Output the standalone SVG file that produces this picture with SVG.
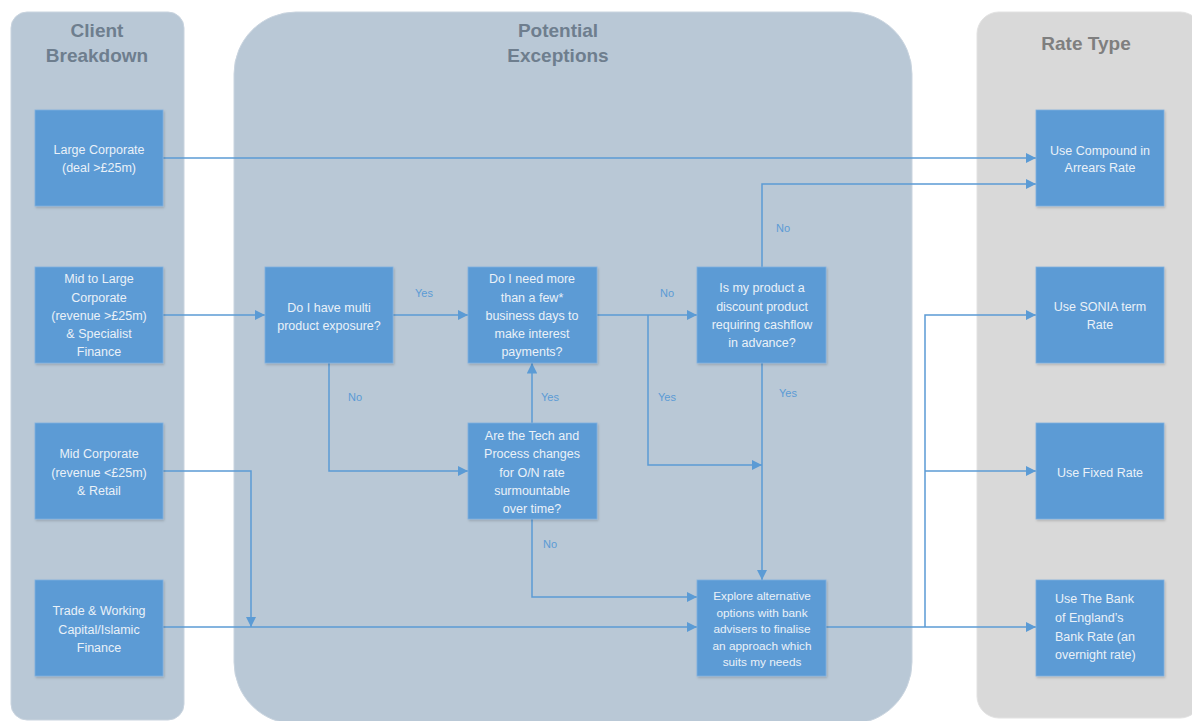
<svg xmlns="http://www.w3.org/2000/svg" width="1192" height="721" viewBox="0 0 1192 721">
<defs>
<style>
.lane{fill:#B9C8D6;stroke:#C9D4DF;stroke-width:1}
.laneR{fill:#D9D9D9;stroke:#E2E2E2;stroke-width:1}
.title{font-family:"Liberation Sans",Arial,sans-serif;font-weight:bold;font-size:19px;fill:#6E7E8E;text-anchor:middle}
.titleR{font-family:"Liberation Sans",Arial,sans-serif;font-weight:bold;font-size:19px;fill:#7F7F7F;text-anchor:middle}
.box{fill:#5B9BD5;stroke:#7FB0DE;stroke-width:0.8;filter:url(#sh)}
.t{font-family:"Liberation Sans",Arial,sans-serif;font-size:12.5px;fill:#EAF1F8;text-anchor:middle}
.ts{font-family:"Liberation Sans",Arial,sans-serif;font-size:11.8px;fill:#EAF1F8;text-anchor:middle}
.tl{font-family:"Liberation Sans",Arial,sans-serif;font-size:12.5px;fill:#EAF1F8;text-anchor:start}
.c{fill:none;stroke:#5B9BD5;stroke-width:1.5}
.ca{fill:none;stroke:#5B9BD5;stroke-width:1.5;marker-end:url(#ah)}
.lbl{font-family:"Liberation Sans",Arial,sans-serif;font-size:11px;fill:#5B9BD5;text-anchor:middle}
</style>
<marker id="ah" viewBox="0 0 10 10" refX="10" refY="5" markerWidth="7" markerHeight="7" markerUnits="strokeWidth" orient="auto">
<path d="M0,0 L10,5 L0,10 Z" fill="#5B9BD5"/>
</marker>
<filter id="sh" x="-10%" y="-10%" width="130%" height="130%">
<feDropShadow dx="1" dy="1.5" stdDeviation="1.2" flood-color="#000000" flood-opacity="0.18"/>
</filter>
</defs>

<g id="lanes">
<rect class="lane" x="11" y="12" width="173" height="708" rx="16"/>
<rect class="lane" x="234" y="12" width="678" height="712" rx="62"/>
<rect class="laneR" x="977" y="12" width="225" height="706" rx="22"/>
<text class="title" x="97" y="37">Client</text>
<text class="title" x="97" y="62">Breakdown</text>
<text class="title" x="558" y="37">Potential</text>
<text class="title" x="558" y="62">Exceptions</text>
<text class="titleR" x="1086" y="50">Rate Type</text>
</g>

<g id="connectors">
<path class="ca" d="M163,158 H1036"/>
<path class="ca" d="M163,315 H265"/>
<path class="ca" d="M393,315 H468"/>
<path class="ca" d="M329,363 V471 H468"/>
<path class="ca" d="M532,423 V363"/>
<path class="ca" d="M597,315 H697"/>
<path class="ca" d="M648,315 V465 H762"/>
<path class="ca" d="M762,267 V184 H1036"/>
<path class="ca" d="M762,363 V580"/>
<path class="ca" d="M532,519 V597 H697"/>
<path class="ca" d="M163,471 H251 V627"/>
<path class="ca" d="M163,627 H697"/>
<path class="ca" d="M826,627 H1036"/>
<path class="ca" d="M925,627 V315 H1036"/>
<path class="ca" d="M925,471 H1036"/>
<text class="lbl" x="424" y="297">Yes</text>
<text class="lbl" x="355" y="401">No</text>
<text class="lbl" x="550" y="401">Yes</text>
<text class="lbl" x="667" y="297">No</text>
<text class="lbl" x="667" y="401">Yes</text>
<text class="lbl" x="783" y="232">No</text>
<text class="lbl" x="788" y="397">Yes</text>
<text class="lbl" x="550" y="548">No</text>
</g>

<g id="n-large-corporate">
<rect class="box" x="35" y="110" width="128" height="96"/>
<text class="t" x="99" y="154">Large Corporate</text>
<text class="t" x="99" y="172">(deal &gt;£25m)</text>
</g>
<g id="n-mid-large">
<rect class="box" x="35" y="267" width="128" height="96"/>
<text class="t" x="99" y="283">Mid to Large</text>
<text class="t" x="99" y="302">Corporate</text>
<text class="t" x="99" y="320">(revenue &gt;£25m)</text>
<text class="t" x="99" y="338">&amp; Specialist</text>
<text class="t" x="99" y="356">Finance</text>
</g>
<g id="n-mid-corporate">
<rect class="box" x="35" y="423" width="128" height="96"/>
<text class="t" x="99" y="458">Mid Corporate</text>
<text class="t" x="99" y="477">(revenue &lt;£25m)</text>
<text class="t" x="99" y="495">&amp; Retail</text>
</g>
<g id="n-trade">
<rect class="box" x="35" y="580" width="128" height="96"/>
<text class="t" x="99" y="615">Trade &amp; Working</text>
<text class="t" x="99" y="634">Capital/Islamic</text>
<text class="t" x="99" y="652">Finance</text>
</g>

<g id="n-multi">
<rect class="box" x="265" y="267" width="128" height="96"/>
<text class="t" x="329" y="312">Do I have multi</text>
<text class="t" x="329" y="330">product exposure?</text>
</g>
<g id="n-need">
<rect class="box" x="468" y="267" width="129" height="96"/>
<text class="t" x="532" y="283">Do I need more</text>
<text class="t" x="532" y="302">than a few*</text>
<text class="t" x="532" y="320">business days to</text>
<text class="t" x="532" y="338">make interest</text>
<text class="t" x="532" y="356">payments?</text>
</g>
<g id="n-tech">
<rect class="box" x="468" y="423" width="129" height="96"/>
<text class="t" x="532" y="440">Are the Tech and</text>
<text class="t" x="532" y="458">Process changes</text>
<text class="t" x="532" y="477">for O/N rate</text>
<text class="t" x="532" y="495">surmountable</text>
<text class="t" x="532" y="513">over time?</text>
</g>
<g id="n-discount">
<rect class="box" x="697" y="267" width="129" height="96"/>
<text class="t" x="762" y="292">Is my product a</text>
<text class="t" x="762" y="311">discount product</text>
<text class="t" x="762" y="329">requiring cashflow</text>
<text class="t" x="762" y="347">in advance?</text>
</g>
<g id="n-explore">
<rect class="box" x="697" y="580" width="129" height="96"/>
<text class="ts" x="762" y="600">Explore alternative</text>
<text class="ts" x="762" y="617">options with bank</text>
<text class="ts" x="762" y="633">advisers to finalise</text>
<text class="ts" x="762" y="650">an approach which</text>
<text class="ts" x="762" y="666">suits my needs</text>
</g>

<g id="n-compound">
<rect class="box" x="1036" y="110" width="128" height="96"/>
<text class="t" x="1100" y="155">Use Compound in</text>
<text class="t" x="1100" y="172">Arrears Rate</text>
</g>
<g id="n-sonia">
<rect class="box" x="1036" y="267" width="128" height="96"/>
<text class="t" x="1100" y="311">Use SONIA term</text>
<text class="t" x="1100" y="329">Rate</text>
</g>
<g id="n-fixed">
<rect class="box" x="1036" y="423" width="128" height="96"/>
<text class="t" x="1100" y="477">Use Fixed Rate</text>
</g>
<g id="n-bank">
<rect class="box" x="1036" y="580" width="128" height="96"/>
<text class="tl" x="1055" y="603">Use The Bank</text>
<text class="tl" x="1055" y="622">of England’s</text>
<text class="tl" x="1055" y="641">Bank Rate (an</text>
<text class="tl" x="1055" y="659">overnight rate)</text>
</g>
</svg>
